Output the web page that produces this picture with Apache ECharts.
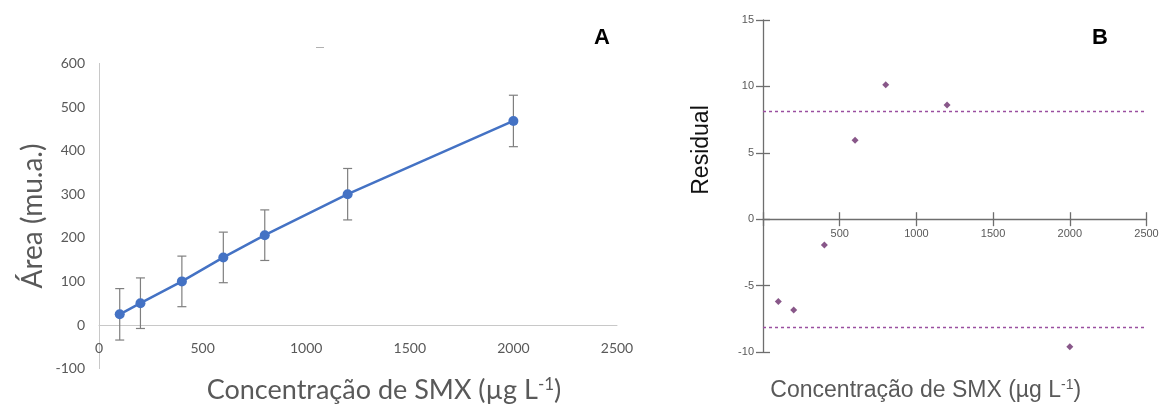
<!DOCTYPE html>
<html>
<head>
<meta charset="utf-8">
<script src="https://cdn.jsdelivr.net/npm/echarts@6/dist/echarts.min.js"></script>
<style>
  html, body { margin: 0; padding: 0; background: #fff; }
  #chart { width: 1160px; height: 409px; }
</style>
</head>
<body>
<div id="chart"></div>
<script>
// Calibration of SMX: concentration (µg L-1), peak area and standard deviation
const concentrations = [100, 200, 400, 600, 800, 1200, 2000];
const areas = [24.5, 50, 100, 155, 206, 300, 468];
const areaErrors = [59, 58, 58, 58, 58, 59, 59];

// Residuals of the linear fit and the ±limit band
const residuals = [-6.2, -6.84, -1.95, 5.94, 10.13, 8.6, -9.6];
const residualLimit = 8.1;

// Axis ticks
const xTicksA = [0, 500, 1000, 1500, 2000, 2500];
const yTicksA = [-100, 0, 100, 200, 300, 400, 500, 600];
const xTicksB = [0, 500, 1000, 1500, 2000, 2500];
const yTicksB = [-10, -5, 0, 5, 10, 15];

const chart = echarts.init(document.getElementById('chart'), null, { renderer: 'canvas' });

const areaPoints = concentrations.map((c, i) => [c, areas[i]]);
const errorData = concentrations.map((c, i) => [c, areas[i] - areaErrors[i], areas[i] + areaErrors[i]]);
const residualPoints = concentrations.map((c, i) => [c, residuals[i]]);

const grayText = '#595959';
const purple = '#6a2d6c';
const plain = v => String(v);

// panel sizes; the x axes sit on the zero line, i.e. raised by the
// height of the part of each panel that lies below zero
const gridA = { left: 99, top: 63.4, width: 518, height: 305.2 };
const gridB = { left: 763, top: 20, width: 383.5, height: 332 };
const raiseA = -gridA.height * (0 - yTicksA[0]) / (yTicksA[yTicksA.length - 1] - yTicksA[0]);
const raiseB = -gridB.height * (0 - yTicksB[0]) / (yTicksB[yTicksB.length - 1] - yTicksB[0]);

const axisStyleB = { color: '#6e6e6e', width: 1.3 };
const halfTick = 7; // ticks of panel B cross their axis line

const noBounds = { outerBoundsMode: 'none', containLabel: false };

chart.setOption({
  animation: false,
  backgroundColor: '#ffffff',
  grid: [
    Object.assign({}, noBounds, gridA),
    Object.assign({}, noBounds, gridB),
    Object.assign({}, noBounds, gridB)   // carries only the crossing ticks of B
  ],
  xAxis: [
    {
      gridIndex: 0, type: 'value', position: 'bottom', offset: raiseA,
      min: xTicksA[0], max: xTicksA[xTicksA.length - 1], interval: 500,
      axisLine: { onZero: false, lineStyle: { color: '#c8c8c8', width: 1 } },
      axisTick: { show: false },
      splitLine: { show: false },
      axisLabel: { color: grayText, fontFamily: 'Lato', fontSize: 14, margin: 16, formatter: plain },
      name: 'Concentração de SMX (µg L{sup|-1})',
      nameLocation: 'middle', nameGap: 51,
      nameTextStyle: {
        color: grayText, fontFamily: 'Lato', fontSize: 27, padding: [0, 0, 0, 52],
        rich: { sup: { fontFamily: 'Lato', fontSize: 17, color: grayText, verticalAlign: 'top', padding: [0, 0, 12, 0] } }
      }
    },
    {
      gridIndex: 1, type: 'value', position: 'bottom', offset: raiseB,
      min: xTicksB[0], max: xTicksB[xTicksB.length - 1], interval: 500,
      axisLine: { onZero: false, lineStyle: axisStyleB },
      axisTick: { show: false },
      splitLine: { show: false },
      axisLabel: {
        color: grayText, fontFamily: 'Liberation Sans', fontSize: 11, margin: 9,
        formatter: v => (v === 0 ? '' : String(v))
      },
      name: 'Concentração de SMX (µg L{sup|-1})',
      nameLocation: 'middle', nameGap: 159,
      nameTextStyle: {
        color: grayText, fontFamily: 'Liberation Sans', fontSize: 23, padding: [0, 58, 0, 0],
        rich: { sup: { fontFamily: 'Liberation Sans', fontSize: 14, color: grayText, verticalAlign: 'top', padding: [0, 0, 10, 0] } }
      }
    },
    {
      gridIndex: 2, type: 'value', position: 'bottom', offset: raiseB - halfTick,
      min: xTicksB[0], max: xTicksB[xTicksB.length - 1], interval: 500,
      axisLine: { show: false, onZero: false },
      axisTick: { show: true, length: 2 * halfTick, lineStyle: axisStyleB },
      splitLine: { show: false },
      axisLabel: { show: false }
    }
  ],
  yAxis: [
    {
      gridIndex: 0, type: 'value', position: 'left',
      min: yTicksA[0], max: yTicksA[yTicksA.length - 1], interval: 100,
      axisLine: { show: true, onZero: false, lineStyle: { color: '#c8c8c8', width: 1 } },
      axisTick: { show: false },
      splitLine: { show: false },
      axisLabel: { color: grayText, fontFamily: 'Lato', fontSize: 14, margin: 14, formatter: plain },
      name: 'Área (mu.a.)',
      nameLocation: 'middle', nameGap: 52,
      nameTextStyle: { color: grayText, fontFamily: 'Lato', fontSize: 28 }
    },
    {
      gridIndex: 1, type: 'value', position: 'left',
      min: yTicksB[0], max: yTicksB[yTicksB.length - 1], interval: 5,
      axisLine: { show: true, onZero: false, lineStyle: axisStyleB },
      axisTick: { show: false },
      splitLine: { show: false },
      axisLabel: { color: grayText, fontFamily: 'Liberation Sans', fontSize: 11, margin: 9, formatter: plain }
    },
    {
      gridIndex: 2, type: 'value', position: 'left', offset: -halfTick,
      min: yTicksB[0], max: yTicksB[yTicksB.length - 1], interval: 5,
      axisLine: { show: false, onZero: false },
      axisTick: { show: true, length: 2 * halfTick, lineStyle: axisStyleB },
      splitLine: { show: false },
      axisLabel: { show: false }
    }
  ],
  series: [
    {
      name: 'Desvio padrão',
      type: 'custom',
      xAxisIndex: 0, yAxisIndex: 0,
      data: errorData,
      z: 1,
      renderItem: function (params, api) {
        const x = api.value(0);
        const low = api.coord([x, api.value(1)]);
        const high = api.coord([x, api.value(2)]);
        const cap = 4.5;
        const style = { stroke: '#7f7f7f', lineWidth: 1.2 };
        return {
          type: 'group',
          children: [
            { type: 'line', shape: { x1: low[0], y1: low[1], x2: high[0], y2: high[1] }, style },
            { type: 'line', shape: { x1: low[0] - cap, y1: low[1], x2: low[0] + cap, y2: low[1] }, style },
            { type: 'line', shape: { x1: high[0] - cap, y1: high[1], x2: high[0] + cap, y2: high[1] }, style }
          ]
        };
      }
    },
    {
      name: 'Área',
      type: 'line',
      xAxisIndex: 0, yAxisIndex: 0,
      data: areaPoints,
      z: 3,
      symbol: 'circle', symbolSize: 10,
      lineStyle: { color: '#4472c4', width: 2.5 },
      itemStyle: { color: '#4472c4' }
    },
    {
      name: 'Residual',
      type: 'scatter',
      xAxisIndex: 1, yAxisIndex: 1,
      data: residualPoints,
      symbol: 'diamond', symbolSize: 7,
      itemStyle: { color: purple },
      markLine: {
        silent: true,
        symbol: 'none',
        label: { show: false },
        lineStyle: { color: '#9a4fa0', type: [3, 3], width: 1.3, opacity: 1 },
        data: [{ yAxis: residualLimit }, { yAxis: -residualLimit }]
      }
    }
  ],
  graphic: [
    {
      type: 'text', left: 594, top: 27,
      style: { text: 'A', fontFamily: 'Liberation Sans', fontWeight: 'bold', fontSize: 22, fill: '#000' }
    },
    {
      type: 'text', left: 1092, top: 27,
      style: { text: 'B', fontFamily: 'Liberation Sans', fontWeight: 'bold', fontSize: 22, fill: '#000' }
    },
    {
      type: 'text', x: 702, y: 150, rotation: Math.PI / 2,
      style: {
        text: 'Residual', fontFamily: 'Liberation Sans', fontSize: 23, fill: '#111111',
        align: 'center', verticalAlign: 'middle'
      }
    },
    {
      type: 'line',
      shape: { x1: 316, y1: 47.5, x2: 324, y2: 47.5 },
      style: { stroke: '#b0b0b0', lineWidth: 1 }
    }
  ]
});
</script>
</body>
</html>
